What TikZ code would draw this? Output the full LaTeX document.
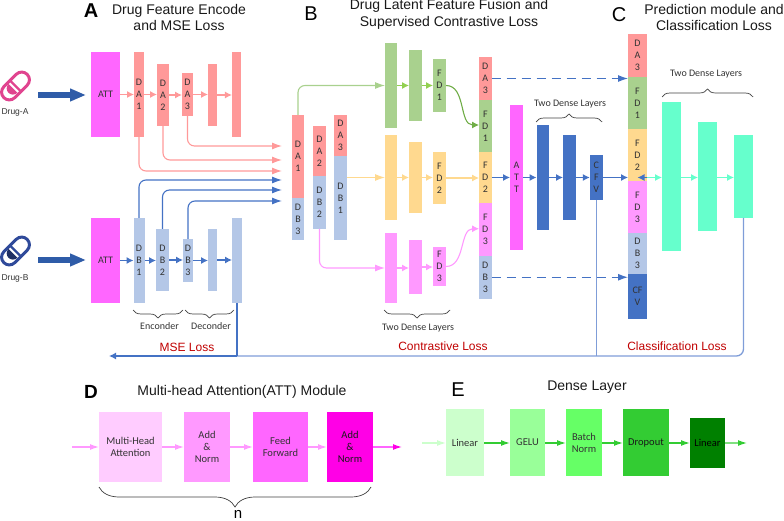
\documentclass[tikz,border=0pt]{standalone}
\usepackage{fontspec}
\setmainfont{Liberation Sans}
\newfontfamily\barfont{Carlito}
\usepackage{tikz}
\usetikzlibrary{arrows.meta,decorations.pathreplacing,calc}
\definecolor{pinkbar}{HTML}{FF9999}
\definecolor{bluebar}{HTML}{B4C7E7}
\definecolor{greenbar}{HTML}{A9D18E}
\definecolor{yellowbar}{HTML}{FFD98F}
\definecolor{violetbar}{HTML}{FF99FF}
\definecolor{attbar}{HTML}{FF66FF}
\definecolor{darkbar}{HTML}{4472C4}
\definecolor{mintbar}{HTML}{66FFCC}
\definecolor{lossred}{HTML}{C00000}
\definecolor{lossblue}{HTML}{7F9DD8}
\definecolor{drugpink}{HTML}{E0448F}
\definecolor{drugblue}{HTML}{2F4A9A}
\definecolor{bigblue}{HTML}{2F5CA8}
\definecolor{chaingreen}{HTML}{92D050}
\definecolor{curvegreen}{HTML}{70AD47}
\definecolor{attone}{HTML}{FFCCFF}
\definecolor{attdeep}{HTML}{FF00E6}
\definecolor{denseone}{HTML}{CCFFCC}
\definecolor{densetwo}{HTML}{99FF99}
\definecolor{densethree}{HTML}{66FF66}
\definecolor{densefour}{HTML}{33CC33}
\definecolor{densefive}{HTML}{008000}
\definecolor{denseline}{HTML}{80E080}
\tikzset{
    bar/.style 2 args={rectangle, inner sep=0pt, outer sep=0pt, minimum width=#1pt, minimum height=#2pt, font=\barfont\fontsize{10}{12}\selectfont, align=center, text=black!80},
    flowbox/.style={rectangle, inner sep=0pt, outer sep=0pt, font=\barfont\fontsize{10.5}{12}\selectfont, align=center, text=black!80},
    note/.style={font=\barfont\fontsize{10}{12}\selectfont, text=black!80},
    heading/.style={font=\fontsize{14}{17}\selectfont, align=center, text=black!90},
    panel/.style={font=\fontsize{20}{20}\selectfont},
    lossname/.style={font=\fontsize{12}{12}\selectfont, text=lossred},
    link/.style={line width=1.1pt, -{Latex[length=7pt,width=7pt]}, rounded corners=7pt},
    outlink/.style={line width=1.1pt, -{Latex[length=10pt,width=7pt]}, rounded corners=7pt},
    boxlink/.style={line width=1.3pt, -{Latex[length=9pt,width=6pt]}},
    curly/.style={draw=black!75, line width=0.7pt, decorate, decoration={brace,amplitude=#1}},
    curly/.default=8pt,
    curlydown/.style={draw=black!75, line width=0.7pt, decorate, decoration={brace,mirror,amplitude=#1}},
    curlydown/.default=8pt,
    bigarrow/.style={draw=bigblue, line width=5.5pt, -{Triangle[length=16pt,width=12pt]}, shorten >=5pt},
    bigstripes/.style={draw=bigblue, line width=5.5pt, dash pattern=on 1.5pt off 0.7pt},
    capsule/.style={rectangle, rotate=45, rounded corners=7.75pt, minimum width=33pt, minimum height=15.5pt, inner sep=0pt, line width=3pt},
    drugname/.style={font=\fontsize{8.5}{10}\selectfont, text=black!80}
}
\begin{document}
\begin{tikzpicture}[x=1pt,y=-1pt]
  \useasboundingbox (0,0) rectangle (784,521);

  % titles
  \node[panel,font=\bfseries\fontsize{20}{20}\selectfont] (letterA) at (91,11) {A};
  \node[heading] (titleA) at (179,17.5) {Drug Feature Encode\\and MSE Loss};
  \node[panel] (letterB) at (311,14) {B};
  \node[heading] (titleB) at (449,14.5) {Drug Latent Feature Fusion and\\Supervised Contrastive Loss};
  \node[panel] (letterC) at (619,15) {C};
  \node[heading] (titleC) at (714,17.5) {Prediction module and\\Classification Loss};

  % drugs
  \node[capsule,draw=drugpink] (pillA) at (15.5,86) {};
  \draw[drugpink,line width=2.4pt] ($(pillA.center)+(-5.5,-5.5)$) -- ($(pillA.center)+(5.5,5.5)$);
  \fill[drugpink] ($(pillA.center)+(-7,-2)$) arc[start angle=135,end angle=315,radius=6.2pt] -- cycle;
  \node[drugname] (nameA) at (15,112) {Drug-A};
  \node[capsule,draw=drugblue] (pillB) at (15.5,251) {};
  \draw[drugblue,line width=2.4pt] ($(pillB.center)+(-5.5,-5.5)$) -- ($(pillB.center)+(5.5,5.5)$);
  \fill[drugblue!65!black] ($(pillB.center)+(-7,-2)$) arc[start angle=135,end angle=315,radius=6.2pt] -- cycle;
  \node[drugname] (nameB) at (15,278) {Drug-B};

  % encoder of drug A
  \node[bar={29}{85},fill=attbar] (attA) at (105.5,94.5) {ATT};
  \node[bar={10}{85},fill=pinkbar] (aone) at (139,94.5) {D\\A\\1};
  \node[bar={12}{62},fill=pinkbar] (atwo) at (163,95) {D\\A\\2};
  \node[bar={11}{43},fill=pinkbar] (athree) at (187.5,94.5) {D\\A\\3};
  \node[bar={9}{62},fill=pinkbar] (afour) at (212.5,95) {};
  \node[bar={9.5}{85},fill=pinkbar] (afive) at (236.7,94.5) {};

  % encoder of drug B
  \node[bar={29}{85},fill=attbar] (attB) at (105.5,260.5) {ATT};
  \node[bar={11}{85},fill=bluebar] (bone) at (139,260.5) {D\\B\\1};
  \node[bar={13}{62},fill=bluebar] (btwo) at (162.5,260) {D\\B\\2};
  \node[bar={10}{43},fill=bluebar] (bthree) at (188,260.5) {D\\B\\3};
  \node[bar={9}{62},fill=bluebar] (bfour) at (212.5,260) {};
  \node[bar={10}{85},fill=bluebar] (bfive) at (237,260.5) {};

  % latent stacks
  \node[bar={12}{83},fill=pinkbar] (sa) at (298,156.5) {D\\A\\1};
  \node[bar={12}{42},fill=bluebar,anchor=north] (sb) at (sa.south) {D\\B\\3};
  \node[bar={13}{50},fill=pinkbar] (ta) at (319.5,151) {D\\A\\2};
  \node[bar={13}{53},fill=bluebar,anchor=north] (tb) at (ta.south) {D\\B\\2};
  \node[bar={13}{41},fill=pinkbar] (ua) at (340.5,135.5) {D\\A\\3};
  \node[bar={13}{84},fill=bluebar,anchor=north] (ub) at (ua.south) {D\\B\\1};

  % dense layers of the fusion
  \node[bar={12}{85},fill=greenbar] (gone) at (391,85.5) {};
  \node[bar={13}{71},fill=greenbar] (gtwo) at (415.5,85.5) {};
  \node[bar={13}{53},fill=greenbar] (gthree) at (439.5,85.5) {F\\D\\1};
  \node[bar={12}{85},fill=yellowbar] (yone) at (391,177.5) {};
  \node[bar={13}{71},fill=yellowbar] (ytwo) at (415.5,177.5) {};
  \node[bar={13}{52},fill=yellowbar] (ythree) at (439.5,178) {F\\D\\2};
  \node[bar={12}{70},fill=violetbar] (vone) at (391,268) {};
  \node[bar={13}{54},fill=violetbar] (vtwo) at (415.5,267) {};
  \node[bar={13}{39},fill=violetbar] (vthree) at (439.5,266.5) {F\\D\\3};

  % fused stack
  \node[bar={12.5}{43},fill=pinkbar] (fa) at (485.3,78.5) {D\\A\\3};
  \node[bar={12.5}{52},fill=greenbar,anchor=north] (fb) at (fa.south) {F\\D\\1};
  \node[bar={12.5}{51.5},fill=yellowbar,anchor=north] (fc) at (fb.south) {F\\D\\2};
  \node[bar={12.5}{52.5},fill=violetbar,anchor=north] (fd) at (fc.south) {F\\D\\3};
  \node[bar={12.5}{42.5},fill=bluebar,anchor=north] (fe) at (fd.south) {D\\B\\3};

  \node[bar={13}{145},fill=attbar] (attF) at (516.5,177.5) {A\\T\\T};
  \node[bar={12.5}{105},fill=darkbar] (done) at (542.8,177.5) {};
  \node[bar={13}{85},fill=darkbar] (dtwo) at (569.5,177.5) {};
  \node[bar={13}{45},fill=darkbar] (dthree) at (596.3,177.5) {C\\F\\V};

  % prediction stack
  \node[bar={19}{43},fill=pinkbar] (pa) at (637.5,55.5) {D\\A\\3};
  \node[bar={19}{52.5},fill=greenbar,anchor=north] (pb) at (pa.south) {F\\D\\1};
  \node[bar={19}{51.5},fill=yellowbar,anchor=north] (pc) at (pb.south) {F\\D\\2};
  \node[bar={19}{52},fill=violetbar,anchor=north] (pd) at (pc.south) {F\\D\\3};
  \node[bar={19}{41.5},fill=bluebar,anchor=north] (pe) at (pd.south) {D\\B\\3};
  \node[bar={19}{44.5},fill=darkbar,anchor=north] (pf) at (pe.south) {CF\\V};
  \node[bar={19}{149},fill=mintbar] (mone) at (671.5,176.5) {};
  \node[bar={19}{109},fill=mintbar] (mtwo) at (707.5,176.5) {};
  \node[bar={19}{83},fill=mintbar] (mthree) at (743.5,176.5) {};

  % free ends
  \coordinate (ina) at (282,171);
  \coordinate (inb) at (282,160);
  \coordinate (inc) at (282,146);
  \coordinate (ind) at (282,180);
  \coordinate (ine) at (282,190);
  \coordinate (inf) at (282,201);
  \coordinate (lossend) at (109,356);
  \coordinate (stripeA) at (38,95);
  \coordinate (shaftA) at (44,95);
  \coordinate (stripeB) at (38,260);
  \coordinate (shaftB) at (44,260);

  % arrows of the encoders
  \foreach \a/\b in {attA/aone,aone/atwo,atwo/athree,athree/afour,afour/afive}
    \draw[link,pinkbar] (\a.east) -- (\a.east -| \b.west);
  \foreach \a/\b in {attB/bone,bone/btwo,btwo/bthree,bthree/bfour,bfour/bfive}
    \draw[link,darkbar] (\a.east) -- (\a.east -| \b.west);
  \draw[outlink,pinkbar] (aone.south) |- (ina);
  \draw[outlink,pinkbar] (atwo.south) |- (inb);
  \draw[outlink,pinkbar] (athree.south) |- (inc);
  \draw[outlink,darkbar] (bone.north) |- (ind);
  \draw[outlink,darkbar] (btwo.north) |- (ine);
  \draw[outlink,darkbar] (bthree.north) |- (inf);

  % arrows of the fusion
  \draw[outlink,greenbar] (sa.north) |- (gone.west);
  \draw[outlink,yellowbar] (ub.east |- yone.west) -- (yone.west);
  \draw[outlink,violetbar] (tb.south) |- (vone.west);
  \foreach \a/\b in {gone/gtwo,gtwo/gthree}
    \draw[link,chaingreen] (\a.east) -- (\a.east -| \b.west);
  \foreach \a/\b in {yone/ytwo,ytwo/ythree}
    \draw[link,yellowbar] (\a.east) -- (\a.east -| \b.west);
  \foreach \a/\b in {vone/vtwo,vtwo/vthree}
    \draw[link,violetbar] (\a.east) -- (\a.east -| \b.west);
  \draw[link,yellowbar] (ythree.east) -- (ythree.east -| fc.west);
  \draw[link,curvegreen] (gthree.east) to[out=0,in=180] ($(fb.west)+(0,-1)$);
  \draw[link,violetbar] (vthree.east) to[out=0,in=180] ($(fd.west)+(0,-1)$);
  \draw[outlink,darkbar,dash pattern=on 9pt off 6pt] (fa.east) -- (fa.east -| pa.west);
  \draw[outlink,darkbar,dash pattern=on 9pt off 6pt] (fe.east) -- (fe.east -| pf.west);

  % arrows towards the prediction
  \draw[link,darkbar] (attF.west -| fc.east) -- (attF.west);
  \foreach \a/\b in {attF/done,done/dtwo,dtwo/dthree,dthree/pc}
    \draw[link,darkbar] (\a.east) -- (\a.east -| \b.west);
  \draw[link,mintbar] (pc.east |- dthree.east) -- (mone.west |- dthree.east);
  \draw[link,darkbar] (pc.east |- dthree.east) -- (pc.center |- dthree.east);
  \foreach \a/\b in {mone/mtwo,mtwo/mthree}
    \draw[link,mintbar] (\a.east |- dthree.east) -- (\b.west |- dthree.east);

  % big arrows
  \draw[bigstripes] (stripeA) -- (shaftA);
  \draw[bigarrow] (shaftA) -- (shaftA -| attA.west);
  \draw[bigstripes] (stripeB) -- (shaftB);
  \draw[bigarrow] (shaftB) -- (shaftB -| attB.west);

  % losses
  \coordinate (lossmid) at (bfive.south |- lossend);
  \draw[line width=1.3pt,lossblue,rounded corners=7pt] (mthree.south) |- (lossmid);
  \draw[line width=1.2pt,darkbar,-{Latex[length=7pt,width=7pt]}] (lossmid) -- (lossend);
  \draw[line width=1.2pt,darkbar] (bfive.south) -- (lossmid);
  \draw[line width=1.2pt,lossblue] (dthree.south) -- (dthree.south |- lossend);
  \node[lossname] (mse) at (187,347) {MSE Loss};
  \node[lossname] (contrast) at (443,346) {Contrastive Loss};
  \node[lossname] (classify) at (677,346) {Classification Loss};

  % braces
  \draw[curlydown] (133,310) -- (183,310);
  \node[note] (enc) at (159.5,326) {Enconder};
  \draw[curlydown] (185,310) -- (234,310);
  \node[note] (dec) at (211,326) {Deconder};
  \draw[curlydown] (384,310) -- (450,310);
  \node[note] (twoa) at (418,328) {Two Dense Layers};
  \draw[curly] (536,122) -- (602,122);
  \node[note] (twob) at (570,104) {Two Dense Layers};
  \draw[curly] (662,97) -- (753,97);
  \node[note] (twoc) at (706,74) {Two Dense Layers};

  % attention module
  \node[panel,font=\bfseries\fontsize{19}{19}\selectfont] (letterD) at (91,392) {D};
  \node[heading] (titleD) at (242,392) {Multi-head Attention(ATT) Module};
  \node[flowbox,fill=attone,minimum width=63pt,minimum height=70pt] (multi) at (130.5,447) {Multi-Head\\Attention};
  \node[flowbox,fill=violetbar,minimum width=46pt,minimum height=70pt] (addone) at (207,447) {Add\\\&\\Norm};
  \node[flowbox,fill=attbar,minimum width=55pt,minimum height=70pt] (feed) at (280.5,447) {Feed\\Forward};
  \node[flowbox,fill=attdeep,text=black!90,minimum width=46pt,minimum height=70pt] (addtwo) at (350,447) {Add\\\&\\Norm};
  \coordinate (inD) at (72,447);
  \coordinate (outD) at (402,447);
  \draw[boxlink,violetbar] (inD) -- (multi.west);
  \foreach \a/\b in {multi/addone,addone/feed,feed/addtwo}
    \draw[boxlink,violetbar] (\a.east) -- (\b.west);
  \draw[boxlink,attbar,-{Latex[length=9pt,width=6pt,attdeep]}] (addtwo.east) -- (outD);
  \draw[curlydown=20pt] (99,487) -- (371,487);
  \node[font=\fontsize{15}{15}\selectfont] (nlabel) at (238,514) {n};

  % dense layer
  \node[panel] (letterE) at (458,390) {E};
  \node[heading] (titleE) at (587,387) {Dense Layer};
  \node[flowbox,fill=denseone,minimum width=38pt,minimum height=67pt] (lina) at (465,442.5) {Linear};
  \node[flowbox,fill=densetwo,minimum width=35pt,minimum height=67pt] (gelu) at (527.5,442.5) {GELU};
  \node[flowbox,fill=densethree,minimum width=36pt,minimum height=67pt] (batch) at (584,442.5) {Batch\\Norm};
  \node[flowbox,fill=densefour,text=black!90,minimum width=46pt,minimum height=67pt] (drop) at (646,442.5) {Dropout};
  \node[flowbox,fill=densefive,text=black,minimum width=35pt,minimum height=50pt] (linb) at (707.5,443) {Linear};
  \coordinate (inE) at (422,443);
  \coordinate (outE) at (747,443);
  \draw[boxlink,denseone] (inE) -- (inE -| lina.west);
  \foreach \a/\b in {lina/gelu,gelu/batch,batch/drop,drop/linb}
    \draw[boxlink,densefour] (\a.east |- inE) -- (\b.west |- inE);
  \draw[boxlink,denseline,-{Latex[length=9pt,width=6pt,densefour]}] (linb.east) -- (outE);
\end{tikzpicture}
\end{document}
